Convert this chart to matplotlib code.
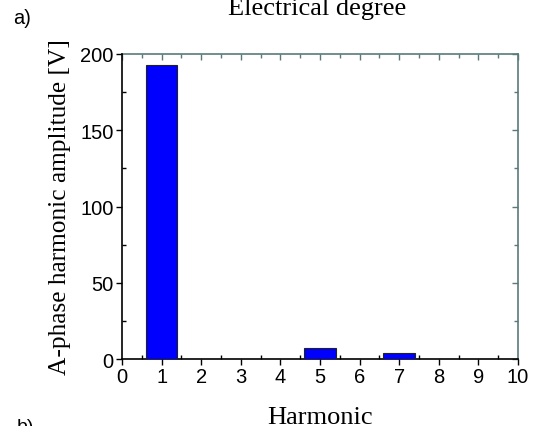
import matplotlib
matplotlib.use("Agg")
import matplotlib.pyplot as plt
from matplotlib.ticker import MultipleLocator, NullFormatter

# Harmonic spectrum of the A-phase back-EMF
harmonics = [1, 5, 7]
amplitudes = [193.0, 7.0, 4.1]

x_ticks = list(range(0, 11))
y_ticks = [0, 50, 100, 150, 200]

sans = ["Liberation Sans", "DejaVu Sans"]
serif = ["Liberation Serif", "DejaVu Serif"]

frame_col = "#5a7a7a"

fig = plt.figure(figsize=(5.38, 4.27), dpi=100)
ax = fig.add_axes([0.2268, 0.1569, 0.9628 - 0.2268, 0.8712 - 0.1569])

ax.bar(harmonics, amplitudes, width=0.8, color="#0000ff",
       edgecolor="#222222", linewidth=0.8, zorder=3)

ax.set_xlim(0, 10)
ax.set_ylim(0, 200)
ax.set_xticks(x_ticks)
ax.set_yticks(y_ticks)
ax.xaxis.set_minor_locator(MultipleLocator(0.5))
ax.yaxis.set_minor_locator(MultipleLocator(25))

ax.tick_params(which="major", direction="out", length=4, width=1.0,
               labelsize=14.5, pad=2, top=False, right=False)
ax.tick_params(which="minor", direction="in", length=3, width=1.0,
               top=False, right=False)
for lab in ax.get_xticklabels() + ax.get_yticklabels():
    lab.set_family(sans)

for s in ("left", "bottom"):
    ax.spines[s].set_linewidth(1.2)
    ax.spines[s].set_color("black")
ax.spines["top"].set_visible(False)
ax.spines["right"].set_visible(False)

# Mirror axes on the top and right with inward ticks
top = ax.secondary_xaxis("top")
top.set_xticks(x_ticks)
top.xaxis.set_minor_locator(MultipleLocator(0.5))
top.xaxis.set_major_formatter(NullFormatter())
top.tick_params(which="major", direction="in", length=4, width=1.0, color=frame_col)
top.tick_params(which="minor", direction="in", length=3, width=1.0, color=frame_col)
top.spines["top"].set_color(frame_col)
top.spines["top"].set_linewidth(1.2)

right = ax.secondary_yaxis("right")
right.set_yticks(y_ticks)
right.yaxis.set_minor_locator(MultipleLocator(25))
right.yaxis.set_major_formatter(NullFormatter())
right.tick_params(which="major", direction="in", length=4, width=1.0, color=frame_col)
right.tick_params(which="minor", direction="in", length=3, width=1.0, color=frame_col)
right.spines["right"].set_color(frame_col)
right.spines["right"].set_linewidth(1.2)

ax.set_xlabel("Harmonic", family=serif, fontsize=19, labelpad=14)
ax.set_ylabel("A-phase harmonic amplitude [V]", family=serif, fontsize=18.3, labelpad=7)

fig.text(0.59, 0.965, "Electrical degree", family=serif, fontsize=19,
         ha="center", va="baseline")
fig.text(0.024, 0.943, "a)", family=sans, fontsize=14.5, ha="left", va="baseline")
fig.text(0.031, -0.012, "b)", family=sans, fontsize=14, ha="left", va="baseline")

fig.savefig("out.png", dpi=100)
